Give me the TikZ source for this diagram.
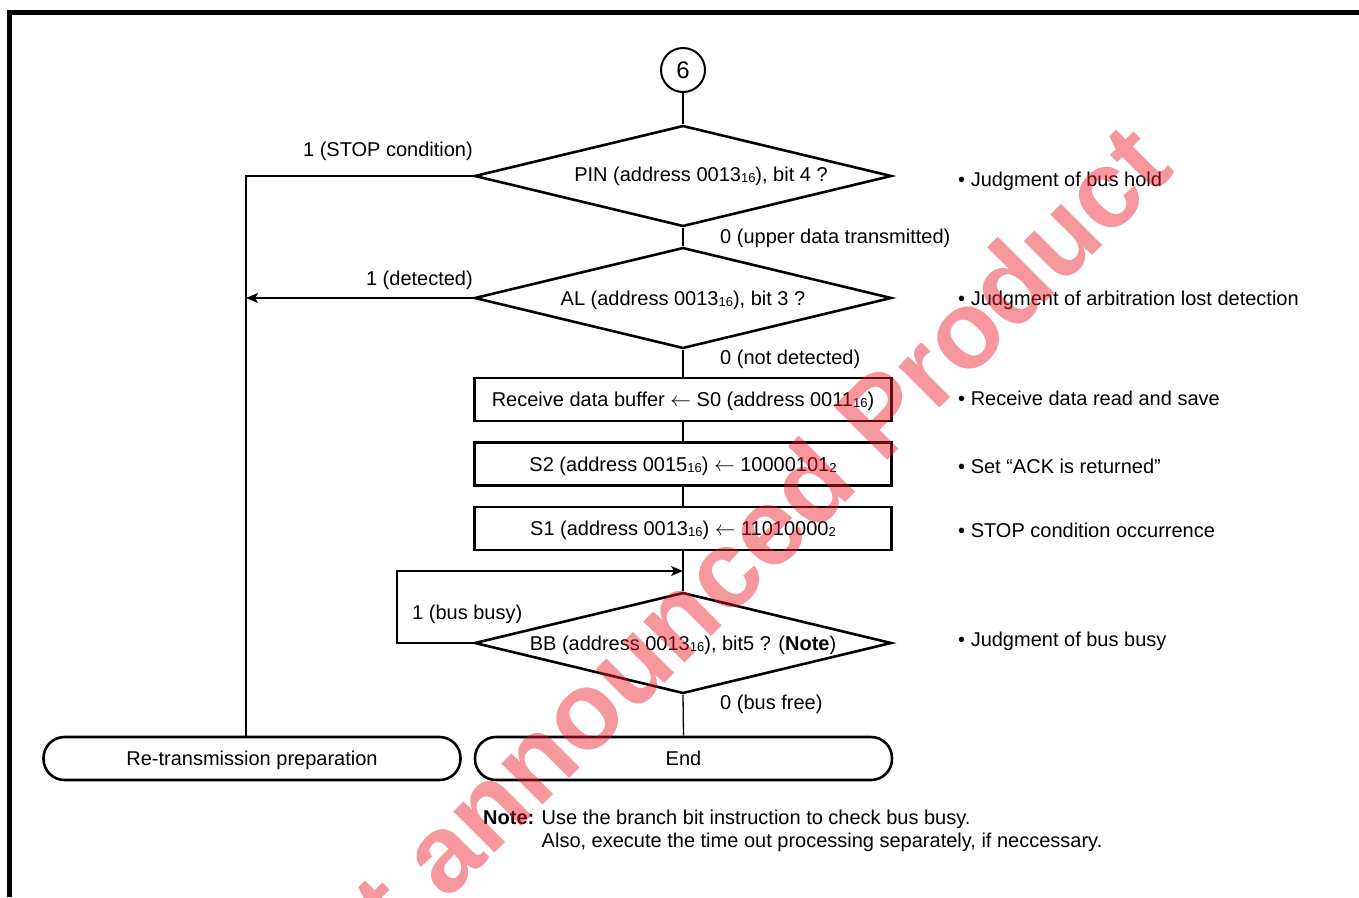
\documentclass[tikz,border=0pt]{standalone}
\usepackage{fontspec}
\setmainfont{Liberation Sans}
\usetikzlibrary{shapes.geometric,arrows.meta}
\newcommand\hexs[1]{\raisebox{-1pt}{\fontsize{13}{13}\selectfont #1}}
\definecolor{wmred}{RGB}{235,25,40}
\begin{document}
\begin{tikzpicture}[x=1pt,y=-1pt,
  font=\fontsize{20}{23}\selectfont,
  dia/.style={draw, line width=2.6pt, shape=diamond, aspect=4.13,
    minimum width=417pt, minimum height=101pt, inner sep=0pt},
  procbox/.style={draw, line width=2.6pt, rectangle, minimum width=417pt,
    minimum height=43pt, inner sep=0pt},
  term/.style={draw, line width=2.6pt, rectangle, rounded corners=21pt,
    minimum width=417pt, minimum height=43pt, inner sep=0pt},
  low/.style={text height=17.5pt, text depth=3pt},
  conn/.style={line width=1.3pt},
  arr/.style={conn, -{Stealth[length=12pt,width=10pt,inset=3pt]}},
  lbl/.style={inner sep=0pt},
]
\useasboundingbox (0,0) rectangle (1359,897);
% frame
\draw[line width=5pt] (9.5,897) -- (9.5,12.5) -- (1359,12.5);

% nodes
\node[draw, circle, line width=2pt, minimum size=44pt, inner sep=0pt,
  font=\fontsize{24}{24}\selectfont] (c6) at (683,70) {6};
\node[dia] (d1) at (683,176) {\hspace*{36pt}PIN (address 0013\hexs{16}), bit 4 ?};
\node[dia, low] (d2) at (683,298) {AL (address 0013\hexs{16}), bit 3 ?};
\node[procbox, low] (b1) at (683,399.5) {Receive data buffer $\leftarrow$ S0 (address 0011\hexs{16})};
\node[procbox, low] (b2) at (683,464) {S2 (address 0015\hexs{16}) $\leftarrow$ 10000101\hexs{2}};
\node[procbox, low] (b3) at (683,528.5) {S1 (address 0013\hexs{16}) $\leftarrow$ 11010000\hexs{2}};
\node[dia, low] (d3) at (683,643) {BB (address 0013\hexs{16}), bit5 ? (\textbf{Note})};
\node[term, low] (endn) at (683.5,758.5) {End};
\node[term, low] (retr) at (252,758.5) {Re-transmission preparation};

% helper coordinates
\coordinate (lt) at (246,176);
\coordinate (loopL) at (397,643);
\coordinate (join) at (683,571);

% connectors
\draw[conn] (c6) -- (d1.north);
\draw[conn] (d1.south) -- (d2.north);
\draw[conn] (d2.south) -- (b1.north);
\draw[conn] (b1.south) -- (b2.north);
\draw[conn] (b2.south) -- (b3.north);
\draw[conn] (b3.south) -- (d3.north);
\draw[conn] (d3.south) -- (endn.north);
\draw[conn] (d1.west) -- (lt) -- (lt |- retr.north);
\draw[arr] (d2.west) -- (lt |- d2.west);
\draw[arr] (d3.west) -- (loopL) |- (join);

% branch labels
\node[lbl, anchor=mid east] (l1) at (473,154) {1 (STOP condition)};
\node[lbl, anchor=mid west] (l2) at (720,241) {0 (upper data transmitted)};
\node[lbl, anchor=mid east] (l3) at (473,283) {1 (detected)};
\node[lbl, anchor=mid west] (l4) at (720,362) {0 (not detected)};
\node[lbl, anchor=mid west] (l5) at (412,617) {1 (bus busy)};
\node[lbl, anchor=mid west] (l6) at (720,707) {0 (bus free)};

% annotations
\node[lbl, anchor=mid west] (a1) at (958,184) {\textbullet\ Judgment of bus hold};
\node[lbl, anchor=mid west] (a2) at (958,303) {\textbullet\ Judgment of arbitration lost detection};
\node[lbl, anchor=mid west] (a3) at (958,403) {\textbullet\ Receive data read and save};
\node[lbl, anchor=mid west] (a4) at (958,471) {\textbullet\ Set “ACK is returned”};
\node[lbl, anchor=mid west] (a5) at (958,535) {\textbullet\ STOP condition occurrence};
\node[lbl, anchor=mid west] (a6) at (958,644) {\textbullet\ Judgment of bus busy};

% note
\node[lbl, anchor=north west] (note) at (483,808) {%
  \begin{tabular}{@{}l@{ }l@{}}\textbf{Note:} & Use the branch bit instruction to check bus busy.\\
  & Also, execute the time out processing separately, if neccessary.\end{tabular}};

% watermark
\begin{scope}
\clip (0,0) rectangle (1359,897);
\node[rotate=45, anchor=base east, inner sep=0pt, text=wmred, opacity=0.45,
  font=\fontsize{110}{110}\selectfont\bfseries] (wm) at (1177,171) {Not announced Product};
\end{scope}
\end{tikzpicture}
\end{document}
